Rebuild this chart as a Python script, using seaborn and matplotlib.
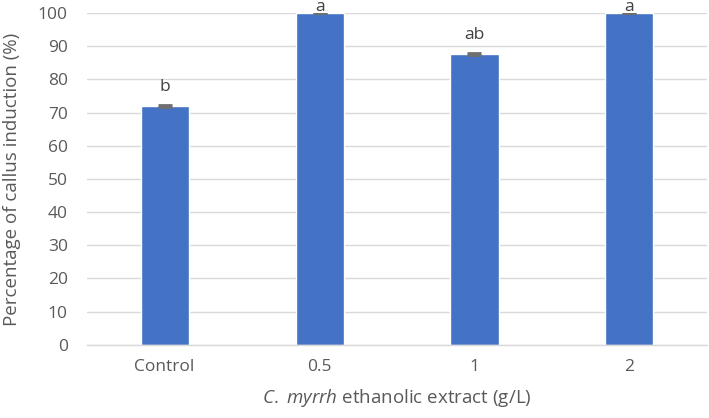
import matplotlib
matplotlib.use("Agg")
import matplotlib.pyplot as plt
import seaborn as sns
import pandas as pd

categories = ["Control", "0.5", "1", "2"]
values = [71.9, 100.0, 87.5, 100.0]
errors = [0.3, 0.0, 0.3, 0.0]
letters = ["b", "a", "ab", "a"]
yticks = [0, 10, 20, 30, 40, 50, 60, 70, 80, 90, 100]

sns.set_theme(style="white")
plt.rcParams["font.family"] = ["Open Sans", "DejaVu Sans"]
plt.rcParams["mathtext.fontset"] = "custom"
plt.rcParams["mathtext.it"] = "Open Sans:italic"
plt.rcParams["mathtext.rm"] = "Open Sans"

df = pd.DataFrame({"conc": categories, "pct": values})

fig = plt.figure(figsize=(7.09, 4.18), dpi=100)
ax = fig.add_axes([0.123, 0.175, 0.874, 0.794])

sns.barplot(data=df, x="conc", y="pct", order=categories, color="#4472C4",
            saturation=1, width=0.31, ax=ax, errorbar=None, zorder=2)
ax.errorbar(range(len(categories)), values, yerr=errors, fmt="none",
            ecolor="#6f6f6f", elinewidth=1, capsize=5, capthick=2, zorder=3)

for i, (v, l) in enumerate(zip(values, letters)):
    y = min(v + 4.6, 100.6)
    ax.text(i, y, l, ha="center", va="baseline", fontsize=12.5, color="#404040",
            clip_on=False)

ax.set_ylim(0, 100)
ax.set_yticks(yticks)
ax.set_xlim(-0.5, 3.5)
ax.yaxis.grid(True, color="#d9d9d9", linewidth=1)
ax.set_axisbelow(True)
for s in ["top", "right", "left"]:
    ax.spines[s].set_visible(False)
ax.spines["bottom"].set_color("#d9d9d9")
ax.spines["bottom"].set_linewidth(1)
ax.tick_params(axis="both", length=0, colors="#595959", labelsize=12.5)
ax.tick_params(axis="y", pad=14)
ax.tick_params(axis="x", pad=10.5)

ax.set_ylabel("Percentage of callus induction (%)", fontsize=13.5, color="#595959",
              labelpad=12)
ax.set_xlabel(r"$C.$ $myrrh$ ethanolic extract (g/L)", fontsize=13.5,
              color="#595959", labelpad=8)

fig.savefig("out.png", dpi=100)
